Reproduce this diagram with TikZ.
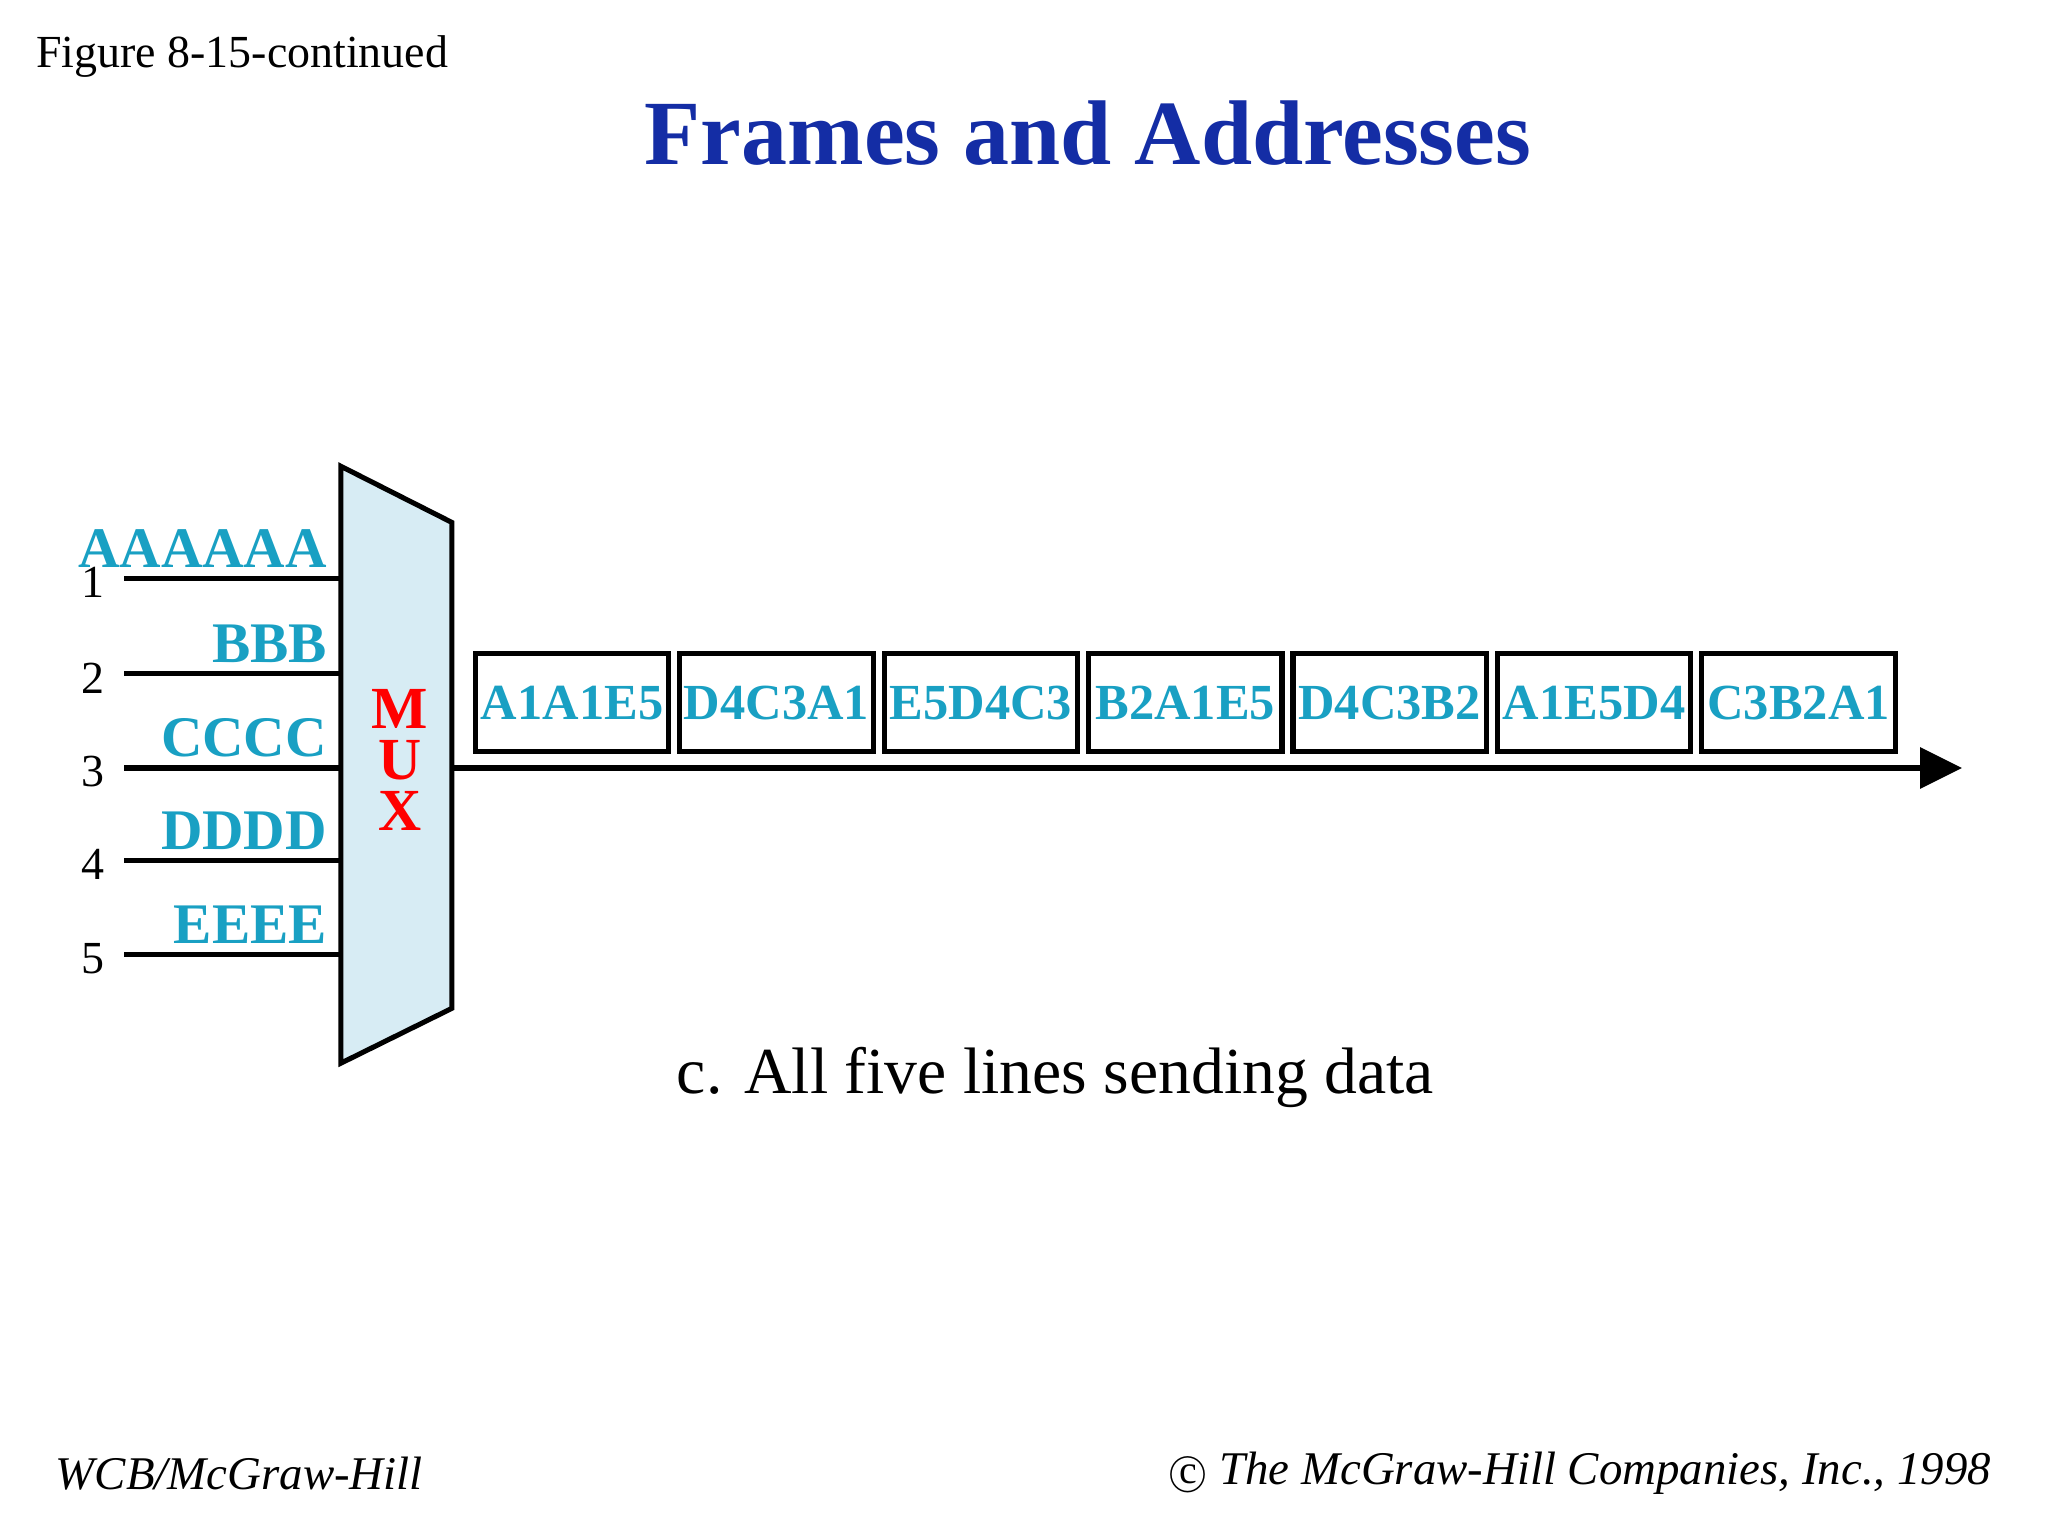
\documentclass[tikz,border=0pt]{standalone}
\usepackage{fontspec}
\setmainfont{Liberation Serif}
\begin{document}
\begin{tikzpicture}[x=0.01cm,y=-0.01cm,
  lbl/.style={text=cy,font=\bfseries\fontsize{12.5}{14}\selectfont,inner sep=0pt},
  num/.style={font=\fontsize{10}{12}\selectfont,inner sep=0pt},
  box/.style={draw,line width=1.1pt,minimum width=1.48cm,minimum height=0.75cm,inner sep=0pt,text=cy,font=\bfseries\fontsize{11}{13}\selectfont},
  ln/.style={line width=1.1pt}]
\definecolor{tb}{RGB}{20,45,165}
\definecolor{mf}{RGB}{215,236,244}
\definecolor{cy}{RGB}{25,160,195}
\useasboundingbox (0,0) rectangle (1568,1176);
\node[anchor=west,font=\fontsize{10}{12}\selectfont,inner sep=0pt] (fig) at (27,43) {Figure 8-15-continued};
\node[text=tb,font=\bfseries\fontsize{20}{24}\selectfont] (title) at (833,102) {Frames and Addresses};
\draw[ln,fill=mf] (261,357) -- (346,400) -- (346,772) -- (261,814) -- cycle;
\foreach \l/\y in {M/543,U/582,X/621}
  \node[text=red,font=\bfseries\fontsize{13}{14}\selectfont,inner sep=0pt] (mux\l) at (306,\y) {\l};
\foreach \i/\y/\t in {1/443/AAAAAA,2/516/BBB,3/588/CCCC,4/659/DDDD,5/731/EEEE}{
  \coordinate (s\i) at (95,\y);
  \coordinate (e\i) at (261,\y);
  \draw[ln] (s\i) -- (e\i);
  \node[num] (n\i) at (71,\y+3) {\i};
  \node[lbl,anchor=south east] (l\i) at (251,\y-8) {\t};
}
\coordinate (os) at (346,588);
\coordinate (oe) at (1502,588);
\draw[ln] (os) -- (1470,588);
\fill (1470,572) -- (oe) -- (1470,604) -- cycle;
\foreach \i/\t in {0/A1A1E5,1/D4C3A1,2/E5D4C3,3/B2A1E5,4/D4C3B2,5/A1E5D4,6/C3B2A1}
  \node[box] (b\i) at (438+156.5*\i,538) {\t};
\node[font=\fontsize{14.3}{16}\selectfont] (cap) at (808,825) {c. All five lines sending data};
\node[anchor=west,font=\itshape\fontsize{10.2}{13}\selectfont,inner sep=0pt] (f1) at (42,1128) {WCB/McGraw-Hill};
\node[anchor=east,font=\itshape\fontsize{10.2}{13}\selectfont,inner sep=0pt] (f2) at (1525,1128) {\scalebox{0.85}{\textcircled{\upshape c}}\ The McGraw-Hill Companies, Inc., 1998};
\end{tikzpicture}
\end{document}
